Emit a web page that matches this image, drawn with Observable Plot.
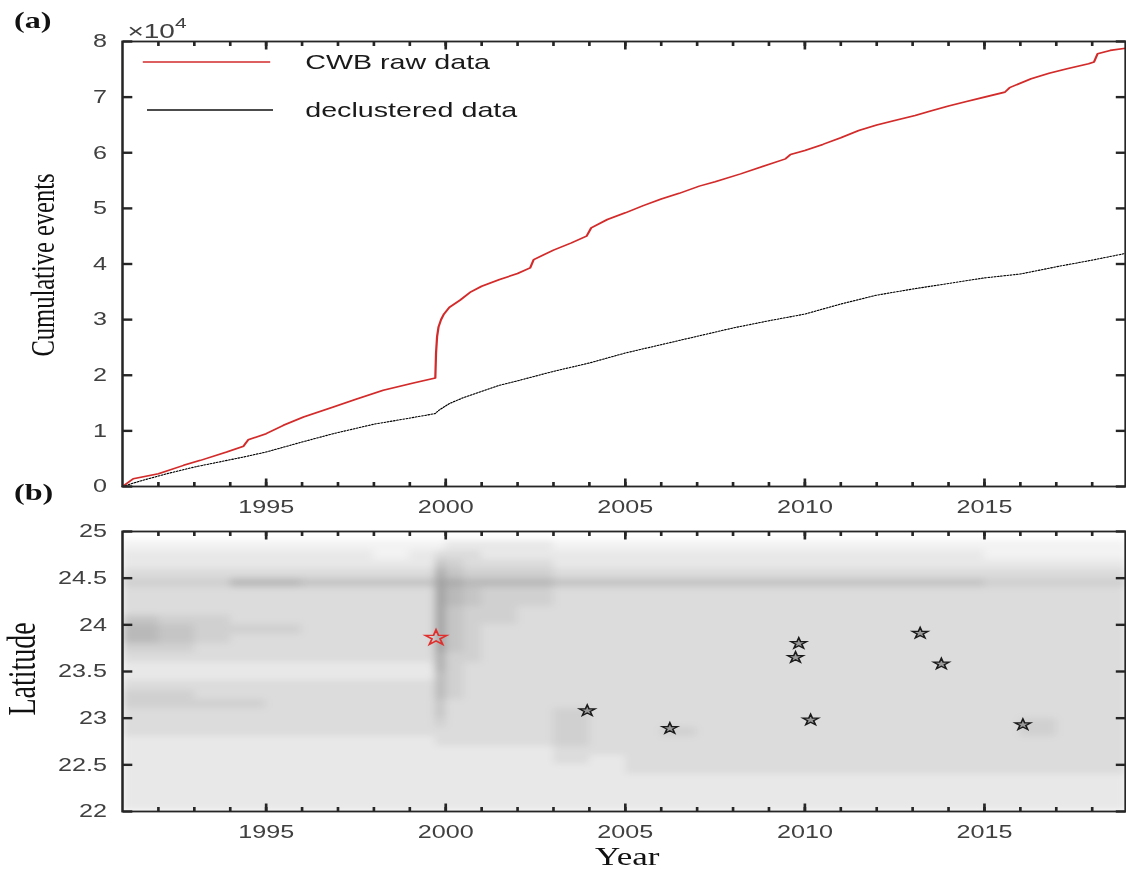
<!DOCTYPE html>
<html><head><meta charset="utf-8">
<script src="https://cdn.jsdelivr.net/npm/d3@7"></script>
<script src="https://cdn.jsdelivr.net/npm/@observablehq/plot@0.6"></script>
<style>
html,body{margin:0;padding:0;background:#fff;overflow:hidden;width:1126px;height:870px;}
#stage{position:absolute;left:0;top:0;width:805px;height:870px;transform:scaleX(1.4);transform-origin:0 0;}
.panel{position:absolute;left:0;}
</style></head><body><div id="stage"></div>
<script>
// ---------- data ----------
const rawYears  = [1991.00,1991.30,1992.00,1992.70,1993.17,1993.90,1994.37,1994.42,1994.50,1995.00,1995.48,1996.04,1996.87,1997.50,1998.26,1999.10,1999.71,1999.73,1999.76,1999.80,1999.87,1999.95,2000.10,2000.40,2000.70,2001.00,2001.50,2002.00,2002.35,2002.45,2003.00,2003.50,2003.92,2004.05,2004.50,2005.00,2005.50,2006.00,2006.50,2007.06,2007.50,2008.21,2008.80,2009.46,2009.60,2010.00,2010.50,2011.00,2011.50,2012.00,2012.50,2013.07,2013.50,2014.00,2014.50,2015.00,2015.57,2015.70,2016.30,2016.80,2017.30,2017.90,2018.05,2018.15,2018.50,2018.93];
const rawCounts = [0,1400,2300,3800,4700,6200,7250,7700,8400,9500,11000,12500,14300,15700,17300,18600,19500,24000,27000,28700,30000,31000,32200,33500,35000,36000,37200,38300,39300,40800,42500,43800,45000,46500,48000,49200,50500,51700,52700,54000,54800,56200,57500,58900,59700,60400,61500,62700,64000,65000,65800,66700,67500,68400,69200,70000,70900,71700,73300,74300,75100,76000,76300,77800,78400,78800];
const declYears  = [1991.00,1991.50,1992.24,1993.00,1994.37,1995.00,1996.00,1996.87,1998.00,1999.00,1999.70,1999.83,2000.10,2000.50,2001.00,2001.50,2002.00,2003.00,2004.00,2005.00,2006.00,2007.00,2008.00,2009.00,2010.00,2011.00,2012.00,2013.00,2014.00,2015.00,2016.00,2017.00,2018.00,2018.93];
const declCounts = [0,1000,2300,3500,5300,6200,8000,9500,11200,12300,13100,13800,14900,16000,17100,18200,19000,20700,22200,24000,25500,27000,28500,29800,31000,32800,34400,35500,36500,37500,38200,39500,40700,41900];

const cumTicks = [0,10000,20000,30000,40000,50000,60000,70000,80000];
const yearMajor = [1995,2000,2005,2010,2015];
const yearMinor = [1992,1993,1994,1995,1996,1997,1998,1999,2000,2001,2002,2003,2004,2005,2006,2007,2008,2009,2010,2011,2012,2013,2014,2015,2016,2017,2018];
const latTicks = [22,22.5,23,23.5,24,24.5,25];

// event density (0-9): rows = latitude bins (bottom edge), columns = time bins
const yearEdges = [1991,1992,1993,1994,1995,1996,1997,1998,1999,1999.72,2000,2000.5,2001,2002,2003,2004,2005,2006,2007,2008,2009,2010,2011,2012,2013,2014,2015,2016,2017,2018,2019];
const latBottoms = [24.8,24.7,24.6,24.5,24.4,24.3,24.2,24.1,24.0,23.9,23.8,23.7,23.6,23.5,23.4,23.3,23.2,23.1,23.0,22.9,22.8,22.7,22.6,22.5,22.4,22.3,22.2,22.1,22.0];
const densityRows = [
 "111111111|1|2222|11|11111111111111",
 "222222212|3|3322|22|22222222221111",
 "222222222|5|4333|22|22222222222222",
 "333333333|7|5444|33|33333333333333",
 "444665555|8|7666|55|55555555554444",
 "333333333|8|6544|33|33333333333333",
 "333333333|8|6544|33|33333333333333",
 "333333333|8|5443|33|33333333333333",
 "544333333|8|5443|33|33333333333333",
 "654443333|8|5433|33|33333333333333",
 "654333333|8|5433|33|33333333333333",
 "443333333|8|5433|33|33333333333333",
 "333333333|7|4433|33|33333333333333",
 "222222222|7|4333|33|33333333333333",
 "222222222|6|4333|33|33333333333333",
 "333333333|6|4333|33|33333333333333",
 "443333333|6|4333|33|33333333333333",
 "444433333|5|3333|33|33333333333333",
 "333333333|5|3333|43|33333333333333",
 "333333333|4|3333|43|33333333333433",
 "333333333|3|3333|43|34333333333433",
 "222222222|3|3333|43|33333333333333",
 "222222222|2|2222|33|33333333333333",
 "222222222|2|2222|32|33333333333333",
 "222222222|2|2222|22|33333333333333",
 "222222222|2|2222|22|22222222222222",
 "222222222|2|2222|22|22222222222222",
 "222222222|2|2222|22|22222222222222",
 "222222222|2|2222|22|22222222222222"
];
const mainshockYears = [1999.73];
const mainshockLats = [23.86];
const eventYears = [2003.94,2006.24,2009.74,2009.83,2010.16,2013.21,2013.80,2016.07];
const eventLats  = [23.08,22.89,23.65,23.80,22.98,23.91,23.58,22.93];

// ---------- build ----------
const xDomain = [1991, 2018.93];
const frameColor = "#262626";
const textColor = "#404040";
const W = 805, ML = 87, MR = 1.5;
const FW = W - ML - MR; // frame width in px

const raw = rawYears.map((y,i)=>({year:y, n:rawCounts[i]}));
const decl = declYears.map((y,i)=>({year:y, n:declCounts[i]}));
const cells = [];
densityRows.forEach((row, r) => {
  const digits = row.replace(/\|/g, "");
  for (let c = 0; c < digits.length; c++) {
    cells.push({x1: yearEdges[c], x2: yearEdges[c+1], y1: latBottoms[r], y2: latBottoms[r] + 0.1, v: +digits[c]});
  }
});
const mainshock = mainshockYears.map((y,i)=>({year:y, lat:mainshockLats[i]}));
const events = eventYears.map((y,i)=>({year:y, lat:eventLats[i]}));

// inward MATLAB-style ticks on all four sides (lengths in px converted to data units)
function boxTicks(yTicks, yDom, FH) {
  const ux = (xDomain[1] - xDomain[0]) / FW, uy = (yDom[1] - yDom[0]) / FH;
  const o = {stroke: frameColor, strokeWidth: 1.9};
  const oy = {stroke: frameColor, strokeWidth: 2.4};
  const xt = (list, len, atTop) => Plot.link(list, {x1: d=>d, x2: d=>d,
      y1: atTop ? yDom[1] : yDom[0], y2: atTop ? yDom[1] - len*uy : yDom[0] + len*uy, ...o});
  const yt = (atRight) => Plot.link(yTicks, {y1: d=>d, y2: d=>d,
      x1: atRight ? xDomain[1] : xDomain[0], x2: atRight ? xDomain[1] - 7*ux : xDomain[0] + 7*ux, ...oy});
  return [xt(yearMinor, 4.5, false), xt(yearMinor, 4.5, true), xt(yearMajor, 8, false), xt(yearMajor, 8, true),
          yt(false), yt(true), Plot.frame({stroke: frameColor, strokeWidth: 1.8})];
}
const axisStyle = {fontFamily: "'Liberation Sans', Arial, sans-serif", fontSize: "18px", background: "transparent", overflow: "visible"};

const plotA = Plot.plot({
  width: W, height: 520, marginLeft: ML, marginRight: MR, marginTop: 41, marginBottom: 34,
  x: {domain: xDomain}, y: {domain: [0, 80000]},
  style: axisStyle,
  marks: [
    Plot.line(decl, {x: "year", y: "n", stroke: "#000", strokeWidth: 1.1, strokeDasharray: "1,1.3"}),
    Plot.line(raw, {x: "year", y: "n", stroke: "#d32a2a", strokeWidth: 1.6}),
    ...boxTicks(cumTicks, [0, 80000], 445),
    Plot.axisY({ticks: cumTicks, anchor: "left", tickSize: 0, tickPadding: 11, tickFormat: d => String(d/10000), color: textColor, fontSize: 18, label: null}),
    Plot.axisX({ticks: yearMajor, anchor: "bottom", tickSize: 0, tickPadding: 14, tickFormat: d => String(d), color: textColor, fontSize: 18, label: null})
  ]
});

const plotB = Plot.plot({
  width: W, height: 351, marginLeft: ML, marginRight: MR, marginTop: 31, marginBottom: 40,
  x: {domain: xDomain}, y: {domain: [22, 25]},
  color: {type: "linear", domain: [0, 10], range: ["#ffffff", "#8a8a8a"]},
  style: axisStyle,
  marks: [
    Plot.rect(cells, {x1: "x1", x2: "x2", y1: "y1", y2: "y2", fill: "v", clip: true, shapeRendering: "crispEdges"}),
    Plot.dot(events, {x: "year", y: "lat", symbol: "star", r: 3.5, fill: "#9a9a9a", stroke: "#1a1a1a", strokeWidth: 1.2}),
    Plot.dot(mainshock, {x: "year", y: "lat", symbol: "star", r: 4.8, fill: "none", stroke: "#e0302e", strokeWidth: 1.4}),
    ...boxTicks(latTicks, [22, 25], 280),
    Plot.axisY({ticks: latTicks, anchor: "left", tickSize: 0, tickPadding: 11, tickFormat: d => String(d), color: textColor, fontSize: 18, label: null}),
    Plot.axisX({ticks: yearMajor, anchor: "bottom", tickSize: 0, tickPadding: 14, tickFormat: d => String(d), color: textColor, fontSize: 18, label: null})
  ]
});

// soften the density cells so they read as a continuous cloud of events
const ns = "http://www.w3.org/2000/svg";
{
  const defs = document.createElementNS(ns, "defs");
  defs.innerHTML = '<filter id="soft" x="-3%" y="-8%" width="106%" height="116%"><feGaussianBlur stdDeviation="3 3"/></filter>';
  plotB.insertBefore(defs, plotB.firstChild);
  const g = plotB.querySelector('g[aria-label="rect"]');
  if (g) {
    const inner = document.createElementNS(ns, "g");
    while (g.firstChild) inner.appendChild(g.firstChild);
    inner.setAttribute("filter", "url(#soft)");
    g.appendChild(inner);
  }
}

const stage = document.getElementById("stage");
function place(el, top) {
  const d = document.createElement("div");
  d.className = "panel"; d.style.top = top + "px";
  d.appendChild(el); stage.appendChild(d);
}
place(plotA, 0);
place(plotB, 500);

// overlay: panel letters, axis titles, exponent, legend
const ov = document.createElementNS(ns, "svg");
ov.setAttribute("width", W); ov.setAttribute("height", 870);
ov.style.position = "absolute"; ov.style.left = "0"; ov.style.top = "0";
const serif = "'Liberation Serif', 'Times New Roman', serif";
const sans = "'Liberation Sans', Arial, sans-serif";
ov.innerHTML = `
  <text x="10" y="28" font-family="${serif}" font-weight="bold" font-size="23" fill="#111">(a)</text>
  <text x="10" y="500" font-family="${serif}" font-weight="bold" font-size="23" fill="#111">(b)</text>
  <text x="91" y="38" font-family="${sans}" font-size="20" fill="${textColor}">×10<tspan dy="-10" font-size="15">4</tspan></text>
  <text transform="translate(30,265) rotate(-90)" text-anchor="middle" dy="0.35em" font-family="${serif}" font-size="24.5" fill="#111">Cumulative events</text>
  <text transform="translate(15,669) rotate(-90)" text-anchor="middle" dy="0.35em" font-family="${serif}" font-size="28" fill="#111">Latitude</text>
  <text x="448" y="865" text-anchor="middle" font-family="${serif}" font-size="25" fill="#111">Year</text>
  <line x1="102" x2="193" y1="62" y2="62" stroke="#d32a2a" stroke-width="1.6"/>
  <text x="218" y="62" dy="0.36em" font-family="${sans}" font-size="20.5" fill="#1a1a1a">CWB raw data</text>
  <line x1="105" x2="195" y1="110" y2="110" stroke="#111" stroke-width="1.4"/>
  <text x="218" y="110" dy="0.36em" font-family="${sans}" font-size="20.5" fill="#1a1a1a">declustered data</text>
`;
stage.appendChild(ov);
</script>
</body></html>
